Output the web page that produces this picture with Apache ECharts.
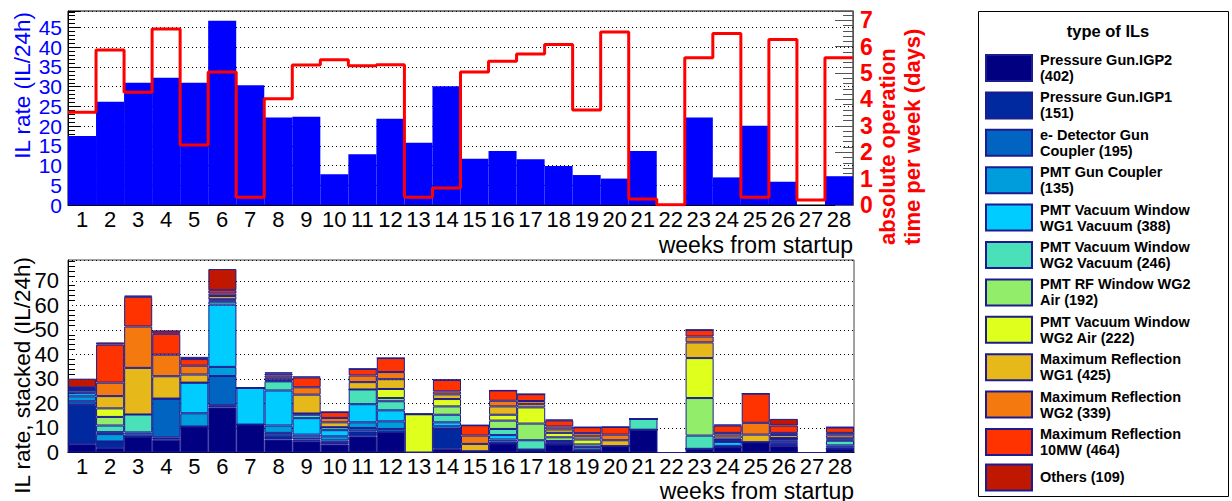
<!DOCTYPE html>
<html>
<head>
<meta charset="utf-8">
<script src="https://cdn.jsdelivr.net/npm/echarts@6/dist/echarts.min.js"></script>
<style>
html, body { margin: 0; padding: 0; background: #fff; }
#chart { width: 1232px; height: 501px; }
</style>
</head>
<body>
<div id="chart"></div>
<script>
// week bins
const weeks = ['1', '2', '3', '4', '5', '6', '7', '8', '9', '10', '11', '12', '13', '14',
  '15', '16', '17', '18', '19', '20', '21', '22', '23', '24', '25', '26', '27', '28'];

// top panel: IL rate (left axis) and operation days per week (right axis)
const ilRate = [17.5, 26.2, 31.0, 32.3, 31.0, 46.7, 30.4, 22.2, 22.4, 7.8, 12.9, 21.9, 15.8, 30.1,
  11.7, 13.7, 11.6, 9.9, 7.6, 6.7, 13.7, 0, 22.2, 7.0, 20.1, 5.9, 0, 7.3];
const opDays = [3.51, 5.87, 4.27, 6.67, 2.27, 5.04, 0.29, 4.03, 5.30, 5.50, 5.28, 5.31, 0.29, 0.64,
  5.04, 5.45, 5.72, 6.08, 3.60, 6.55, 0.23, 0.01, 5.58, 6.50, 0.29, 6.27, 0.19, 5.58];

// bottom panel: stacked IL rate per type
const ilTypes = [
  'Pressure Gun.IGP2\n(402)',
  'Pressure Gun.IGP1\n(151)',
  'e- Detector Gun\nCoupler (195)',
  'PMT Gun Coupler\n(135)',
  'PMT Vacuum Window\nWG1 Vacuum (388)',
  'PMT Vacuum Window\nWG2 Vacuum (246)',
  'PMT RF Window WG2\nAir (192)',
  'PMT Vacuum Window\nWG2 Air (222)',
  'Maximum Reflection\nWG1 (425)',
  'Maximum Reflection\nWG2 (339)',
  'Maximum Reflection\n10MW (464)',
  'Others (109)'
];
const typeColors = ['#000080', '#00289f', '#0064c0', '#009ddc', '#00ccff', '#4ae0b8',
  '#92ee6a', '#dfff1c', '#e6b81a', '#f47a10', '#ff3300', '#c01800'];

const igp2 = [3.4, 1.8, 6.5, 5.2, 10.6, 18.4, 11.4, 5.3, 4.6, 3.3, 6.6, 8.3, 0, 1.5, 0.5, 3.7, 1.2, 3.3, 0.6, 2.6, 9.3, 0, 1.5, 2.2, 4.2, 2.6, 0, 1.6];
const igp1 = [16, 2.7, 0, 1.0, 0, 0.9, 0, 1.5, 0.7, 0.6, 2.0, 0, 0, 8.1, 0, 0, 0, 0, 0, 0, 0, 0, 0, 0, 0, 0.3, 0, 0];
const detGun = [1.5, 0, 0, 15.8, 0, 11.9, 0, 1.2, 0.8, 1.0, 1.4, 1.3, 0, 0, 0, 0.8, 0, 0, 0, 0, 0, 0, 0, 0, 0, 0.5, 0, 0];
const pmtGun = [2.0, 3.0, 0.9, 0, 5.4, 3.7, 0, 3.0, 1.2, 1.7, 2.3, 3.1, 0, 1.1, 0, 0.8, 0, 0.5, 0.3, 0, 0, 0, 0, 0.5, 0, 0.8, 0, 0.5];
const wg1Vac = [1.3, 0.8, 0.8, 0, 12.5, 25.4, 14.9, 14.3, 6.7, 2.5, 7.4, 4.5, 0, 1.6, 0, 1.8, 0, 0.3, 0.3, 0, 0, 0, 0, 1.6, 0, 0.8, 0, 0.8];
const wg2Vac = [1.0, 2.7, 7.3, 0, 0, 1.2, 0, 3.7, 1.4, 1.2, 6.0, 3.7, 0, 3.1, 0, 2.5, 3.8, 0.6, 1.0, 0, 4.4, 0, 5.4, 0.6, 0, 0.6, 0, 1.9];
const rfWg2Air = [0.3, 3.5, 0, 0, 0, 0.5, 0, 0.3, 0.5, 0, 0, 1.3, 0, 3.4, 0, 3.4, 6.8, 1.5, 1.1, 0, 0, 0, 15.3, 0.2, 0, 0, 0, 0.5];
const vacWg2Air = [0.2, 3.5, 0, 0, 0, 0.5, 0, 0.4, 0, 0, 0, 3.7, 15.6, 3.0, 0, 2.4, 6.6, 1.8, 2.0, 0, 0, 0, 16.3, 0.6, 0, 0.3, 0, 0.5];
const mrWg1 = [0.3, 5.0, 19.0, 9.1, 3.3, 1.3, 0, 0.8, 7.7, 2.0, 3.0, 4.0, 0, 1.9, 3.0, 3.4, 1.3, 1.4, 1.3, 2.4, 0, 0, 6.4, 1.2, 3.1, 1.2, 0, 1.2];
const mrWg2 = [0.3, 5.5, 16.9, 8.8, 3.6, 1.0, 0, 0.9, 3.0, 1.8, 2.7, 2.9, 0, 1.2, 3.4, 2.3, 1.3, 1.2, 1.3, 2.3, 0, 0, 2.4, 1.1, 4.8, 0.9, 0, 1.0];
const mr10mw = [0.3, 15.5, 12.1, 8.5, 2.7, 1.4, 0, 0.8, 4.0, 2.4, 2.7, 5.7, 0, 4.7, 4.2, 4.2, 2.8, 2.5, 2.4, 3.1, 0, 0, 2.7, 3.0, 11.9, 3.0, 0, 2.2];
const others = [3.5, 0.9, 0.5, 1.4, 0.9, 8.6, 0, 0.5, 0.4, 0, 0, 0, 0, 0, 0, 0, 0, 0.3, 0, 0, 0, 0, 0, 0.4, 0, 2.7, 0, 0.2];

const typeData = [igp2, igp1, detGun, pmtGun, wg1Vac, wg2Vac, rfWg2Air, vacWg2Air, mrWg1, mrWg2, mr10mw, others];

const FONT = '"Liberation Sans", Arial, Helvetica, sans-serif';

const chart = echarts.init(document.getElementById('chart'), null, { renderer: 'svg' });

function catAxis(gridIndex) {
  return {
    type: 'category',
    gridIndex: gridIndex,
    data: weeks,
    boundaryGap: true,
    axisLine: { lineStyle: { color: '#000', width: 1 } },
    axisTick: { inside: true, length: 7, lineStyle: { color: '#000' } },
    axisLabel: { interval: 0, color: '#000', fontSize: 22, fontFamily: FONT, margin: 3, showMinLabel: true, showMaxLabel: true },
    splitLine: { show: false },
  };
}

const dotted = { color: '#000', width: 1, type: [1, 3] };
const rateLabel = { color: '#0000ff', fontSize: 21, fontFamily: FONT, margin: 6, showMaxLabel: false };

// step outline for the operation time, one point per bin edge
const opLine = opDays.map((v, i) => [i, v]);
opLine.push([opDays.length, opDays[opDays.length - 1]]);

const option = {
  animation: false,
  backgroundColor: '#fff',
  grid: [
    { left: 68, top: 11, width: 785, height: 194, show: true, borderColor: '#000', borderWidth: 1 },
    { left: 68, top: 260, width: 786, height: 192.5, show: true, borderColor: '#444', borderWidth: 1 },
  ],
  xAxis: [
    catAxis(0),
    { type: 'value', gridIndex: 0, min: 0, max: 28, show: false },
    catAxis(1),
  ],
  yAxis: [
    {
      type: 'value', gridIndex: 0, min: 0, max: 49.2, interval: 5,
      axisLine: { show: true, lineStyle: { color: '#000' } },
      axisTick: { inside: true, length: 13, lineStyle: { color: '#000' } },
      minorTick: { show: true, splitNumber: 5, length: 7, lineStyle: { color: '#000' } },
      axisLabel: Object.assign({ showMinLabel: false }, rateLabel),
      splitLine: { show: true, lineStyle: dotted },
    },
    {
      type: 'value', gridIndex: 0, position: 'right', min: 0, max: 7.35, interval: 1,
      axisLine: { show: true, lineStyle: { color: '#555' } },
      axisTick: { inside: true, length: 18, lineStyle: { color: '#555' } },
      minorTick: { show: true, splitNumber: 5, length: 10, lineStyle: { color: '#555' } },
      axisLabel: { color: '#ff0000', fontSize: 23, fontWeight: 'bold', fontFamily: FONT, margin: 7, showMinLabel: true, showMaxLabel: false },
      splitLine: { show: false },
    },
    {
      type: 'value', gridIndex: 1, min: 0, max: 78.5, interval: 10,
      axisLine: { show: true, lineStyle: { color: '#000' } },
      axisTick: { inside: true, length: 13, lineStyle: { color: '#000' } },
      minorTick: { show: true, splitNumber: 5, length: 7, lineStyle: { color: '#000' } },
      axisLabel: { color: '#000', fontSize: 22, fontFamily: FONT, margin: 9, showMinLabel: true, showMaxLabel: false },
      splitLine: { show: true, lineStyle: dotted },
    },
    {
      // same scale as the IL rate axis, only carries the "0" label
      type: 'value', gridIndex: 0, position: 'left', min: 0, max: 49.2, interval: 5,
      axisLine: { show: false },
      axisTick: { show: false },
      splitLine: { show: false },
      axisLabel: Object.assign({ showMinLabel: true, formatter: (v) => (v === 0 ? '0' : '') }, rateLabel),
    },
  ],
  legend: {
    orient: 'vertical',
    left: 985,
    top: 52,
    padding: 0,
    itemWidth: 46,
    itemHeight: 26,
    itemGap: 5.4,
    icon: 'rect',
    data: ilTypes,
    selectedMode: false,
    textStyle: { color: '#000', fontFamily: FONT, fontWeight: 'bold', fontSize: 14.5, lineHeight: 16, padding: [0, 0, 0, 3] },
  },
  graphic: [
    { type: 'rect', shape: { x: 978.5, y: 11.5, width: 250, height: 485 }, style: { fill: 'none', stroke: '#000', lineWidth: 1 } },
    { type: 'text', x: 1108, y: 31, style: { text: 'type of ILs', fill: '#000', font: 'bold 16.5px ' + FONT, textAlign: 'center', textVerticalAlign: 'middle' } },
    { type: 'text', x: 22, y: 12, rotation: Math.PI / 2, style: { text: 'IL rate (IL/24h)', fill: '#0000ff', font: '22.5px ' + FONT, textAlign: 'right', textVerticalAlign: 'middle' } },
    { type: 'text', x: 22, y: 257, rotation: Math.PI / 2, style: { text: 'IL rate, stacked (IL/24h)', fill: '#000', font: '22.5px ' + FONT, textAlign: 'right', textVerticalAlign: 'middle' } },
    { type: 'text', x: 853, y: 245, style: { text: 'weeks from startup', fill: '#000', font: '23px ' + FONT, textAlign: 'right', textVerticalAlign: 'middle' } },
    { type: 'text', x: 854, y: 491, style: { text: 'weeks from startup', fill: '#000', font: '23px ' + FONT, textAlign: 'right', textVerticalAlign: 'middle' } },
    { type: 'text', x: 887, y: 245, rotation: Math.PI / 2, style: { text: 'absolute operation', fill: '#ff0000', font: 'bold 22px ' + FONT, textAlign: 'left', textVerticalAlign: 'middle' } },
    { type: 'text', x: 912, y: 245, rotation: Math.PI / 2, style: { text: 'time per week (days)', fill: '#ff0000', font: 'bold 22px ' + FONT, textAlign: 'left', textVerticalAlign: 'middle' } },
  ],
  series: [
    {
      name: 'IL rate',
      type: 'bar',
      xAxisIndex: 0,
      yAxisIndex: 0,
      data: ilRate,
      barCategoryGap: '0%',
      itemStyle: { color: '#0000ff' },
      z: 2,
    },
    {
      name: 'operation time',
      type: 'line',
      xAxisIndex: 1,
      yAxisIndex: 1,
      data: opLine,
      step: 'end',
      symbol: 'none',
      lineStyle: { color: '#ff0000', width: 3 },
      z: 5,
    },
  ].concat(typeData.map((vals, k) => ({
    name: ilTypes[k],
    type: 'bar',
    stack: 'il',
    xAxisIndex: 2,
    yAxisIndex: 2,
    data: vals,
    barCategoryGap: '0%',
    itemStyle: { color: typeColors[k], borderColor: '#1c1c90', borderWidth: 1 },
  }))),
};

chart.setOption(option);
</script>
</body>
</html>
